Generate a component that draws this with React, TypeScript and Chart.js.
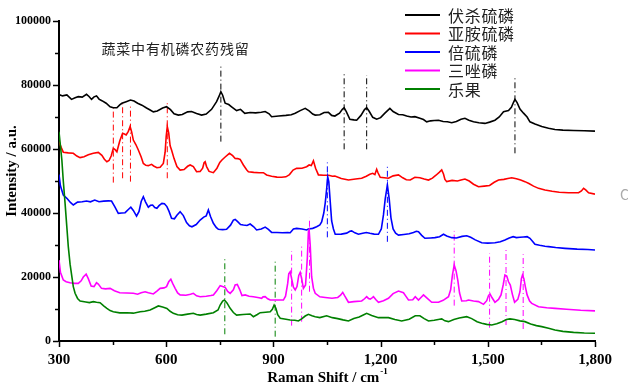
import React, { useEffect, useRef } from "react";
import { Chart, registerables } from "chart.js";

Chart.register(...registerables);

const seriesNames = ["伏杀硫磷", "亚胺硫磷", "倍硫磷", "三唑磷", "乐果"];
const seriesColors = ["#000000", "#ff0000", "#0000ff", "#ff00ff", "#008000"];
const chartNote = "蔬菜中有机磷农药残留";
const xTickValues = [300, 600, 900, 1200, 1500, 1800];
const yTickValues = [0, 20000, 40000, 60000, 80000, 100000];

const fushaPts: [number, number][] = [[300,77000],[310,76600],[322,76900],[335,75500],[345,76000],[354,76350],[365,76200],[377,77100],[384,76400],[391,75500],[398,76300],[405,76600],[412,75600],[420,75100],[432,74300],[443,73200],[452,72900],[462,72900],[470,73800],[476,74300],[488,74800],[500,75300],[510,75000],[520,74300],[532,73700],[545,72800],[555,72200],[564,71600],[575,71900],[590,72800],[601,73200],[612,72300],[622,71000],[634,70600],[645,70800],[660,71600],[671,71700],[685,71100],[699,70600],[712,70900],[727,72400],[741,74800],[748,76500],[753,77900],[758,76800],[765,74300],[775,73900],[783,73200],[797,72000],[808,72400],[820,71150],[835,71400],[850,71300],[866,71500],[877,71700],[888,71000],[895,70100],[915,70300],[935,70500],[950,70700],[961,71150],[975,72000],[989,72700],[1000,71900],[1010,70900],[1017,70600],[1030,70700],[1042,71400],[1054,71450],[1063,70500],[1072,70300],[1085,71200],[1093,72400],[1098,72900],[1104,71700],[1114,69300],[1125,69100],[1133,69000],[1145,70500],[1155,72300],[1161,72900],[1168,71800],[1178,69900],[1189,69300],[1200,69800],[1212,71200],[1226,72700],[1235,71700],[1250,70800],[1262,70700],[1273,70300],[1285,70000],[1296,70100],[1310,69600],[1320,69200],[1329,68500],[1340,68800],[1350,68900],[1362,69000],[1375,68600],[1387,68500],[1399,68200],[1412,68600],[1425,69300],[1436,69600],[1447,69000],[1460,68500],[1475,68200],[1492,68000],[1505,68400],[1520,69000],[1532,70000],[1544,71650],[1558,72000],[1566,73000],[1572,74600],[1576,75500],[1582,74500],[1590,72500],[1600,71200],[1610,70000],[1618,68500],[1632,67800],[1651,67000],[1670,66500],[1688,66100],[1710,65900],[1740,65800],[1770,65700],[1800,65600]];

const yaanPts: [number, number][] = [[300,62300],[306,60500],[312,59000],[326,58800],[340,58650],[350,57800],[359,57300],[370,57600],[382,58200],[396,58650],[410,58950],[420,58000],[427,56800],[434,56000],[440,56400],[446,57800],[452,60200],[457,59800],[462,59150],[470,62500],[478,64900],[483,64700],[488,64400],[494,65500],[499,67000],[503,65500],[508,62800],[515,61400],[522,59700],[530,57500],[536,55500],[543,54900],[550,54800],[559,55200],[565,54700],[574,54150],[583,54300],[592,55500],[597,59000],[600,64000],[603,67000],[607,65000],[611,61000],[615,59700],[622,57000],[630,54500],[639,53400],[650,53600],[660,54600],[667,55000],[676,54500],[685,52900],[695,53000],[702,54000],[706,55700],[709,56000],[713,54500],[720,53000],[732,52600],[742,54000],[750,55800],[756,56550],[765,57500],[777,58650],[786,57900],[793,57050],[800,57000],[807,56750],[816,55000],[825,53500],[830,52900],[845,52700],[860,52600],[872,52600],[881,51900],[895,51500],[910,51200],[923,51150],[935,51300],[945,52000],[955,53400],[965,53950],[980,54000],[993,54450],[1000,55000],[1006,54800],[1012,56300],[1018,54000],[1026,51900],[1040,51800],[1055,51800],[1065,51500],[1072,51550],[1090,50800],[1110,50300],[1130,50600],[1147,50850],[1160,51500],[1170,52100],[1178,52400],[1184,52000],[1189,53650],[1193,52500],[1199,51150],[1210,51000],[1222,50850],[1235,51600],[1250,51900],[1262,51000],[1272,50400],[1283,50300],[1296,51150],[1310,51000],[1322,50600],[1334,50300],[1345,50900],[1355,51800],[1364,52700],[1371,53450],[1376,52200],[1380,50500],[1385,49800],[1400,50200],[1415,50000],[1425,50300],[1436,50600],[1448,50000],[1460,49000],[1474,48200],[1490,48400],[1505,48600],[1518,49600],[1530,50300],[1545,50500],[1556,50800],[1567,51000],[1580,50700],[1592,50300],[1604,49800],[1615,49200],[1628,48400],[1642,47700],[1660,47200],[1680,46800],[1700,46500],[1726,46350],[1754,46350],[1762,46900],[1768,47700],[1774,47200],[1782,46300],[1800,45900]];

const beiPts: [number, number][] = [[300,52000],[304,48500],[312,45600],[322,44600],[332,43300],[340,42500],[352,43400],[365,43500],[377,43750],[388,43500],[400,44050],[412,43500],[425,43700],[438,43800],[447,43750],[456,42000],[466,39900],[476,40000],[485,40100],[494,41100],[501,41800],[508,40800],[517,39050],[524,40500],[530,43600],[536,45100],[542,43500],[550,41800],[556,42400],[562,42500],[568,41700],[574,41450],[580,42300],[588,43000],[595,42900],[602,42000],[608,40500],[615,38350],[623,38200],[630,39300],[639,40400],[648,39200],[657,37000],[665,36000],[672,35700],[684,36400],[695,37800],[705,38700],[712,39100],[718,40950],[724,38900],[732,36800],[740,35500],[746,34900],[758,34800],[769,34900],[780,36200],[788,37800],[793,38000],[800,37300],[808,36400],[816,36250],[826,36100],[835,36550],[845,35700],[853,34700],[866,35000],[877,35600],[886,34900],[895,33950],[910,33900],[925,33850],[940,33900],[947,33850],[956,35000],[965,35200],[980,35000],[993,34700],[998,35000],[1010,35200],[1021,35700],[1030,36250],[1035,37200],[1041,40000],[1045,43100],[1049,47500],[1052,51300],[1055,49800],[1058,45100],[1063,37500],[1068,35000],[1073,33350],[1090,33400],[1105,33700],[1114,34300],[1119,34400],[1128,33800],[1138,33350],[1150,33700],[1160,33900],[1170,33650],[1182,33400],[1194,33350],[1202,35000],[1208,39400],[1213,44500],[1219,48750],[1224,44500],[1229,38500],[1235,35000],[1242,33700],[1250,33100],[1265,33300],[1280,33500],[1292,33900],[1300,34300],[1306,34150],[1315,33000],[1324,32100],[1340,32200],[1352,32300],[1365,32600],[1376,33350],[1385,32800],[1399,32300],[1412,32200],[1428,32700],[1441,32900],[1452,32400],[1465,31600],[1483,30700],[1500,30600],[1520,30700],[1535,31000],[1548,31550],[1560,32200],[1571,32600],[1580,32300],[1590,32400],[1600,32500],[1610,32600],[1618,32100],[1625,31200],[1632,30200],[1645,29900],[1660,29600],[1670,29500],[1690,29200],[1716,28950],[1750,28700],[1780,28600],[1800,28450]];

const sanzuoPts: [number, number][] = [[300,25300],[304,21500],[312,19050],[320,18500],[331,18200],[344,18000],[354,18000],[362,18800],[368,20000],[376,20900],[382,19500],[390,17200],[398,17000],[405,18200],[410,17800],[419,16450],[430,16300],[443,16450],[455,15700],[470,15100],[490,15000],[508,14900],[520,14600],[530,15100],[541,15400],[550,15100],[564,14700],[574,15600],[583,16450],[594,16600],[601,17000],[607,18500],[613,19300],[618,18000],[625,16450],[632,15000],[639,14400],[655,14300],[668,14600],[676,14900],[685,14100],[695,13850],[712,14000],[725,14200],[732,14400],[742,15800],[751,17300],[758,17000],[765,16750],[772,15500],[779,14900],[788,16000],[793,17500],[799,17700],[806,16000],[812,14200],[821,14400],[832,14000],[844,13850],[860,13500],[867,13350],[871,13800],[877,13850],[884,13200],[891,12800],[910,12800],[928,12800],[934,14000],[940,18000],[943,21000],[947,21650],[951,19500],[956,16800],[961,15950],[966,17000],[971,20500],[975,21450],[979,19500],[984,16450],[990,17500],[995,26000],[998,34150],[1000,34700],[1003,30000],[1007,20100],[1012,16500],[1017,14900],[1030,13800],[1045,13600],[1064,13350],[1080,13600],[1088,14300],[1094,15200],[1100,14000],[1110,12100],[1125,12300],[1147,12500],[1155,13200],[1161,13850],[1166,13300],[1171,13100],[1176,13500],[1180,13850],[1187,12900],[1194,12100],[1208,12600],[1222,13350],[1235,14800],[1250,15600],[1264,15100],[1272,13800],[1278,12800],[1290,12900],[1297,13850],[1306,12800],[1313,13600],[1320,14400],[1330,13400],[1343,12100],[1362,12100],[1375,12700],[1390,13850],[1396,16000],[1401,20600],[1406,23750],[1411,22000],[1416,19050],[1421,15000],[1427,12500],[1440,12600],[1446,12800],[1460,12500],[1474,12300],[1488,11450],[1497,12600],[1502,14200],[1506,14700],[1512,13500],[1520,12100],[1530,13000],[1537,14400],[1543,17500],[1548,20600],[1553,20300],[1558,18500],[1563,17500],[1569,14500],[1575,12100],[1584,13000],[1590,15400],[1594,19500],[1597,20600],[1601,19500],[1605,17000],[1610,14400],[1617,12500],[1623,11750],[1642,10700],[1665,10400],[1688,10200],[1720,9900],[1760,9600],[1800,9400]];

const leguoPts: [number, number][] = [[300,65400],[304,61000],[308,56550],[312,50000],[317,43000],[322,35500],[326,29500],[331,24000],[336,20100],[340,17000],[345,14900],[352,13300],[359,12500],[375,12200],[385,12000],[396,12300],[405,12100],[415,11950],[425,11000],[434,10200],[443,9500],[452,9150],[470,8800],[490,8850],[508,8700],[527,9150],[540,9300],[555,9700],[568,10400],[578,10950],[590,10600],[602,10200],[611,9300],[620,8650],[632,8200],[644,8100],[660,8400],[676,8650],[685,8300],[695,8100],[712,8400],[732,8850],[745,9700],[751,11250],[758,12500],[763,12800],[770,11900],[779,10200],[788,8900],[797,8100],[815,8300],[835,8450],[844,7600],[855,8300],[863,8850],[878,9000],[891,9150],[897,9900],[902,11250],[907,10200],[912,8200],[919,7100],[935,6800],[947,6550],[960,6500],[970,6250],[980,7000],[989,7800],[998,8350],[1008,7900],[1017,7600],[1030,7300],[1049,7900],[1065,7300],[1080,7000],[1095,6600],[1110,6250],[1125,7000],[1140,7500],[1153,8200],[1161,8650],[1175,8000],[1194,7300],[1210,7300],[1222,7300],[1240,6700],[1259,6250],[1280,6800],[1297,7900],[1310,7900],[1322,7000],[1334,6250],[1350,6500],[1365,6800],[1371,6900],[1380,6300],[1390,6050],[1405,6700],[1420,7200],[1441,7600],[1455,7000],[1470,6000],[1483,5550],[1497,5200],[1511,5000],[1525,5400],[1540,6000],[1552,6700],[1562,6900],[1575,6700],[1590,6300],[1604,6050],[1620,5300],[1636,4800],[1651,4500],[1670,4000],[1688,3450],[1710,3000],[1740,2700],[1770,2500],[1800,2400]];

// peak markers: [wavenumber, lower intensity, upper intensity]
const fushaMarks: [number, number, number][] = [[753, 62300, 86250], [1098, 59900, 83650], [1161, 59900, 83100], [1576, 58650, 82600]];
const yaanMarks: [number, number, number][] = [[452, 49500, 73200], [478, 50850, 74300], [500, 49800, 73750], [603, 50850, 74300]];
const beiMarks: [number, number, number][] = [[1051, 32400, 55800], [1219, 31000, 54700]];
const sanzuoMarks: [number, number, number][] = [[951, 4800, 28100], [979, 6050, 29800], [1001, 15400, 38550], [1406, 11050, 34400], [1505, 4150, 27400], [1551, 5000, 28450], [1599, 3750, 27100]];
const leguoMarks: [number, number, number][] = [[764, 2100, 25600], [905, 1350, 25300]];

const allSeries = [fushaPts, yaanPts, beiPts, sanzuoPts, leguoPts];
const allMarks = [fushaMarks, yaanMarks, beiMarks, sanzuoMarks, leguoMarks];

const SERIF = '"Liberation Serif", "Times New Roman", serif';
const CJK = '"Noto Sans CJK SC", "Noto Sans", sans-serif';

const decorPlugin = {
  id: "decor",
  afterDraw(chart: any) {
    const ctx = chart.ctx as CanvasRenderingContext2D;
    const xs = chart.scales.x;
    const ys = chart.scales.y;
    const area = chart.chartArea;
    ctx.save();
    // ticks
    ctx.strokeStyle = "#000";
    ctx.lineWidth = 1.5;
    for (let v = 0; v <= 100000; v += 10000) {
      const p = Math.round(ys.getPixelForValue(v)) + 0.5;
      const len = v % 20000 === 0 ? 5 : 3;
      ctx.beginPath();
      ctx.moveTo(area.left - 1, p);
      ctx.lineTo(area.left - 1 - len, p);
      ctx.stroke();
    }
    for (let v = 300; v <= 1800; v += 150) {
      const p = Math.round(xs.getPixelForValue(v)) + 0.5;
      const len = (v - 300) % 300 === 0 ? 5 : 3;
      ctx.beginPath();
      ctx.moveTo(p, area.bottom + 1);
      ctx.lineTo(p, area.bottom + 1 + len);
      ctx.stroke();
    }
    // axis titles
    ctx.fillStyle = "#000";
    ctx.font = `bold 15px ${SERIF}`;
    ctx.textBaseline = "alphabetic";
    const main = "Raman Shift / cm";
    const mw = ctx.measureText(main).width;
    ctx.font = `bold 9px ${SERIF}`;
    const sw = ctx.measureText("-1").width;
    const startX = (area.left + area.right) / 2 - (mw + sw) / 2;
    ctx.font = `bold 15px ${SERIF}`;
    ctx.textAlign = "left";
    ctx.fillText(main, startX, 382);
    ctx.font = `bold 9px ${SERIF}`;
    ctx.fillText("-1", startX + mw + 1, 374);

    ctx.save();
    ctx.translate(16, 171);
    ctx.rotate(-Math.PI / 2);
    ctx.font = `bold 15px ${SERIF}`;
    ctx.textAlign = "center";
    ctx.fillText("Intensity / a.u.", 0, 0);
    ctx.restore();

    // note
    ctx.fillStyle = "#222";
    ctx.font = `14px ${CJK}`;
    ctx.textAlign = "left";
    ctx.textBaseline = "middle";
    const chars = Array.from(chartNote);
    chars.forEach((c, i) => ctx.fillText(c, 101.5 + i * 14.8, 49));

    // legend
    const rows = [15, 33.5, 52, 70.5, 89];
    seriesNames.forEach((name, i) => {
      ctx.strokeStyle = seriesColors[i];
      ctx.lineWidth = 2;
      ctx.beginPath();
      ctx.moveTo(405, rows[i]);
      ctx.lineTo(440, rows[i]);
      ctx.stroke();
      ctx.fillStyle = "#222";
      ctx.font = `16px ${CJK}`;
      ctx.textBaseline = "middle";
      Array.from(name).forEach((c, k) => ctx.fillText(c, 448 + k * 16.7, rows[i] + 0.5));
    });

    // cropped mark at the right edge
    ctx.fillStyle = "#aaa";
    ctx.font = `14px ${CJK}`;
    ctx.fillText("C", 620, 195);
    ctx.restore();
  },
};

export default function App() {
  const ref = useRef<HTMLCanvasElement>(null);
  useEffect(() => {
    document.body.style.margin = "0";
    const datasets: any[] = [];
    allMarks.forEach((marks, si) => {
      marks.forEach((m) => {
        datasets.push({
          data: [{ x: m[0], y: m[1] }, { x: m[0], y: m[2] }],
          borderColor: seriesColors[si],
          borderWidth: 1,
          borderDash: [6, 3, 1, 3],
          pointRadius: 0,
          fill: false,
          order: 10,
        });
      });
    });
    allSeries.forEach((pts, si) => {
      datasets.push({
        label: seriesNames[si],
        data: pts.map((p) => ({ x: p[0], y: p[1] })),
        borderColor: seriesColors[si],
        borderWidth: 1.6,
        pointRadius: 0,
        tension: 0,
        fill: false,
        order: 5 - si,
      });
    });
    const chart = new Chart(ref.current!, {
      type: "line",
      data: { datasets },
      options: {
        animation: false,
        responsive: false,
        maintainAspectRatio: false,
        layout: { padding: { left: 0, right: 33, top: 21, bottom: 0 } },
        plugins: { legend: { display: false }, tooltip: { enabled: false } },
        scales: {
          x: {
            type: "linear",
            min: 300,
            max: 1800,
            afterBuildTicks: (s: any) => {
              s.ticks = xTickValues.map((v) => ({ value: v }));
            },
            afterFit: (s: any) => {
              s.height = 49;
            },
            ticks: {
              color: "#000",
              padding: 10,
              font: { family: SERIF, size: 15, weight: "bold" },
              autoSkip: false,
              maxRotation: 0,
            },
            grid: { display: false, drawTicks: false },
            border: { display: true, color: "#000", width: 2 },
          },
          y: {
            type: "linear",
            min: 0,
            max: 100000,
            afterBuildTicks: (s: any) => {
              s.ticks = yTickValues.map((v) => ({ value: v }));
            },
            afterFit: (s: any) => {
              s.width = 59;
            },
            ticks: {
              color: "#000",
              padding: 8,
              font: { family: SERIF, size: 12, weight: "bold" },
              callback: (v: any) => String(v),
            },
            grid: { display: false, drawTicks: false },
            border: { display: true, color: "#000", width: 2 },
          },
        },
      },
      plugins: [decorPlugin],
    });
    return () => chart.destroy();
  }, []);
  return (
    <div style={{ width: 628, height: 390, background: "#fff" }}>
      <canvas ref={ref} width={628} height={390} style={{ display: "block" }} />
    </div>
  );
}
